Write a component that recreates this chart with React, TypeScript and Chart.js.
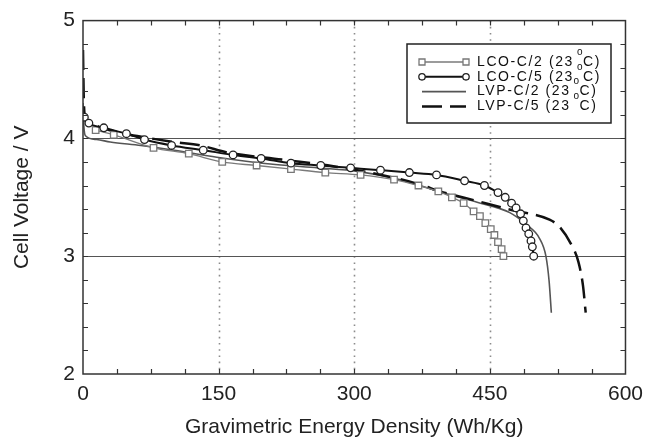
import React, { useEffect, useRef } from 'react';
import { Chart, registerables } from 'chart.js';

Chart.register(...registerables);

// ---------- data ----------
const X_MIN = 0;
const X_MAX = 600;
const Y_MIN = 2;
const Y_MAX = 5;
const X_LABEL_STEP = 150;
const Y_LABEL_STEP = 1;
const X_MINOR_STEP = 37.5;
const Y_MINOR_STEP = 0.2;
const X_DOTTED = [150, 300, 450];
const Y_SOLID = [3, 4];

const X_TITLE = 'Gravimetric Energy Density (Wh/Kg)';
const Y_TITLE = 'Cell Voltage / V';

const SERIES_NAMES = ['LCO-C/2', 'LCO-C/5', 'LVP-C/2', 'LVP-C/5'];
const TEMP_TEXT = ['(23', 'o', 'C)'];

const LCO_C2_X = [14, 34, 78, 117, 154, 192, 230, 268, 307, 344, 371, 393, 408, 421, 432, 439, 445, 451, 455, 459, 463, 465];
const LCO_C2_Y = [4.07, 4.03, 3.92, 3.87, 3.8, 3.77, 3.74, 3.71, 3.69, 3.65, 3.6, 3.55, 3.5, 3.45, 3.38, 3.34, 3.28, 3.23, 3.18, 3.12, 3.06, 3.0];

const LCO_C5_X = [1.5, 6.5, 23, 48, 68, 98, 133, 166, 197, 230, 263, 296, 329, 361, 391, 422, 444, 459, 467, 474, 479, 484, 487, 490, 493, 495.5, 497, 498.5];
const LCO_C5_Y = [4.18, 4.13, 4.09, 4.04, 3.99, 3.94, 3.9, 3.86, 3.83, 3.79, 3.77, 3.75, 3.73, 3.71, 3.69, 3.64, 3.6, 3.54, 3.5, 3.45, 3.41, 3.36, 3.3, 3.24, 3.19, 3.13, 3.08, 3.0];

const LVP_C2_X = [0, 1, 3, 15, 30, 64, 101, 148, 210, 260, 304, 350, 402, 435, 472, 490, 505, 512, 515.5, 518];
const LVP_C2_Y = [4.3, 4.1, 4.02, 3.99, 3.97, 3.94, 3.9, 3.84, 3.78, 3.75, 3.72, 3.65, 3.53, 3.46, 3.37, 3.27, 3.15, 3.0, 2.79, 2.52];

const LVP_C5_X = [0, 1, 3, 10, 25, 40, 60, 100, 130, 160, 220, 280, 330, 372, 395, 435, 475, 516, 527, 540, 548, 553, 556];
const LVP_C5_Y = [4.75, 4.3, 4.16, 4.12, 4.08, 4.05, 4.02, 3.97, 3.94, 3.88, 3.82, 3.76, 3.69, 3.61, 3.55, 3.47, 3.39, 3.31, 3.25, 3.1, 2.95, 2.75, 2.52];

const pts = (xs: number[], ys: number[]) => xs.map((x, i) => ({ x, y: ys[i] }));

const FONT = '"Liberation Sans", Arial, Helvetica, sans-serif';

const decorPlugin = {
  id: 'decor',
  beforeDatasetsDraw(chart: any) {
    const { ctx, chartArea, scales } = chart;
    const { left, right, top, bottom } = chartArea;
    const xs = scales.x;
    const ys = scales.y;
    ctx.save();
    ctx.strokeStyle = '#8c8c8c';
    ctx.lineWidth = 1.6;
    ctx.setLineDash([1.6, 4.6]);
    for (const v of X_DOTTED) {
      const px = Math.round(xs.getPixelForValue(v)) + 0.5;
      ctx.beginPath();
      ctx.moveTo(px, top);
      ctx.lineTo(px, bottom);
      ctx.stroke();
    }
    ctx.setLineDash([]);
    ctx.strokeStyle = '#555';
    ctx.lineWidth = 1.2;
    for (const v of Y_SOLID) {
      const py = Math.round(ys.getPixelForValue(v)) + 0.5;
      ctx.beginPath();
      ctx.moveTo(left, py);
      ctx.lineTo(right, py);
      ctx.stroke();
    }
    ctx.restore();
  },
  afterDatasetsDraw(chart: any) {
    const { ctx, chartArea, scales } = chart;
    const { left, right, top, bottom } = chartArea;
    const xs = scales.x;
    const ys = scales.y;
    ctx.save();
    // ticks (inward, all sides)
    ctx.strokeStyle = '#333';
    ctx.lineWidth = 1.2;
    const tl = 5;
    for (let v = X_MIN + X_MINOR_STEP; v < X_MAX - 1e-6; v += X_MINOR_STEP) {
      const px = Math.round(xs.getPixelForValue(v)) + 0.5;
      ctx.beginPath();
      ctx.moveTo(px, bottom);
      ctx.lineTo(px, bottom - tl);
      ctx.moveTo(px, top);
      ctx.lineTo(px, top + tl);
      ctx.stroke();
    }
    for (let v = Y_MIN + Y_MINOR_STEP; v < Y_MAX - 1e-6; v += Y_MINOR_STEP) {
      const py = Math.round(ys.getPixelForValue(v)) + 0.5;
      ctx.beginPath();
      ctx.moveTo(left, py);
      ctx.lineTo(left + tl, py);
      ctx.moveTo(right, py);
      ctx.lineTo(right - tl, py);
      ctx.stroke();
    }
    // frame
    ctx.strokeStyle = '#333';
    ctx.lineWidth = 1.5;
    ctx.strokeRect(left, top, right - left, bottom - top);

    // legend
    const bx = 407, by = 44, bw = 204, bh = 79;
    ctx.fillStyle = '#fff';
    ctx.fillRect(bx, by, bw, bh);
    ctx.strokeStyle = '#222';
    ctx.lineWidth = 1.5;
    ctx.strokeRect(bx, by, bw, bh);
    const ds = chart.data.datasets;
    const sx0 = 422, sx1 = 466, tx = 477;
    for (let i = 0; i < SERIES_NAMES.length; i++) {
      const ry = 62 + i * 14.8;
      const d = ds[i];
      ctx.save();
      ctx.strokeStyle = d.borderColor;
      ctx.lineWidth = d.borderWidth;
      ctx.setLineDash(d.borderDash || []);
      ctx.beginPath();
      ctx.moveTo(sx0, ry);
      ctx.lineTo(sx1, ry);
      ctx.stroke();
      ctx.setLineDash([]);
      if (d.pointRadius > 0) {
        ctx.lineWidth = d.pointBorderWidth;
        ctx.strokeStyle = d.pointBorderColor;
        ctx.fillStyle = '#fff';
        for (const cx of [sx0, sx1]) {
          ctx.beginPath();
          if (d.pointStyle === 'rect') {
            ctx.rect(cx - 3, ry - 3, 6, 6);
          } else {
            ctx.arc(cx, ry, 3.2, 0, Math.PI * 2);
          }
          ctx.fill();
          ctx.stroke();
        }
      }
      ctx.restore();
      ctx.fillStyle = '#111';
      ctx.textBaseline = 'middle';
      ctx.textAlign = 'left';
      ctx.font = `14px ${FONT}`;
      (ctx as any).letterSpacing = '1.6px';
      const t1 = `${SERIES_NAMES[i]} ${TEMP_TEXT[0]}`;
      ctx.fillText(t1, tx, ry);
      const w1 = ctx.measureText(t1).width;
      const cX = tx + w1 + 9;
      ctx.fillText(TEMP_TEXT[2], cX, ry);
      ctx.font = `10px ${FONT}`;
      (ctx as any).letterSpacing = '0px';
      ctx.fillText(TEMP_TEXT[1], cX - 6, ry - 10);
    }
    ctx.restore();
  },
};

export default function App() {
  const ref = useRef<HTMLCanvasElement | null>(null);
  useEffect(() => {
    if (!ref.current) return;
    const chart = new Chart(ref.current, {
      type: 'scatter',
      data: {
        datasets: [
          {
            label: SERIES_NAMES[0],
            data: pts(LCO_C2_X, LCO_C2_Y),
            showLine: true,
            borderColor: '#7a7a7a',
            borderWidth: 1.3,
            pointStyle: 'rect',
            pointRadius: 4.6,
            pointBorderWidth: 1.3,
            pointBorderColor: '#777',
            pointBackgroundColor: '#fff',
            cubicInterpolationMode: 'monotone',
            order: 1,
          },
          {
            label: SERIES_NAMES[1],
            data: pts(LCO_C5_X, LCO_C5_Y),
            showLine: true,
            borderColor: '#111',
            borderWidth: 2,
            pointStyle: 'circle',
            pointRadius: 3.8,
            pointBorderWidth: 1.3,
            pointBorderColor: '#222',
            pointBackgroundColor: '#fff',
            cubicInterpolationMode: 'monotone',
            order: 0,
          },
          {
            label: SERIES_NAMES[2],
            data: pts(LVP_C2_X, LVP_C2_Y),
            showLine: true,
            borderColor: '#555',
            borderWidth: 1.6,
            pointRadius: 0,
            cubicInterpolationMode: 'monotone',
            order: 3,
          },
          {
            label: SERIES_NAMES[3],
            data: pts(LVP_C5_X, LVP_C5_Y),
            showLine: true,
            borderColor: '#111',
            borderWidth: 2.5,
            borderDash: [20, 8],
            pointRadius: 0,
            cubicInterpolationMode: 'monotone',
            order: 2,
          },
        ] as any,
      },
      options: {
        responsive: false,
        animation: false,
        devicePixelRatio: 1,
        layout: { padding: { top: 17, right: 21, left: 0, bottom: 0 } },
        plugins: { legend: { display: false }, tooltip: { enabled: false } },
        scales: {
          x: {
            type: 'linear',
            min: X_MIN,
            max: X_MAX,
            ticks: { stepSize: X_LABEL_STEP, font: { family: FONT, size: 21 }, color: '#222', padding: 8, maxRotation: 0 },
            grid: { display: false, drawTicks: false },
            border: { display: false },
            title: { display: true, text: X_TITLE, font: { family: FONT, size: 21 }, color: '#222', padding: { top: 4, bottom: 6 } },
            afterFit: (s: any) => { s.height = 72; },
          },
          y: {
            type: 'linear',
            min: Y_MIN,
            max: Y_MAX,
            ticks: { stepSize: Y_LABEL_STEP, font: { family: FONT, size: 21 }, color: '#222', padding: 8 },
            grid: { display: false, drawTicks: false },
            border: { display: false },
            title: { display: true, text: Y_TITLE, font: { family: FONT, size: 21 }, color: '#222', padding: { top: 10, bottom: 0 } },
            afterFit: (s: any) => { s.width = 83; },
          },
        },
      } as any,
      plugins: [decorPlugin],
    });
    return () => chart.destroy();
  }, []);
  return (
    <div style={{ position: 'fixed', left: 0, top: 0, width: 651, height: 446, background: '#fff' }}>
      <canvas ref={ref} width={651} height={446} style={{ display: 'block' }} />
    </div>
  );
}
